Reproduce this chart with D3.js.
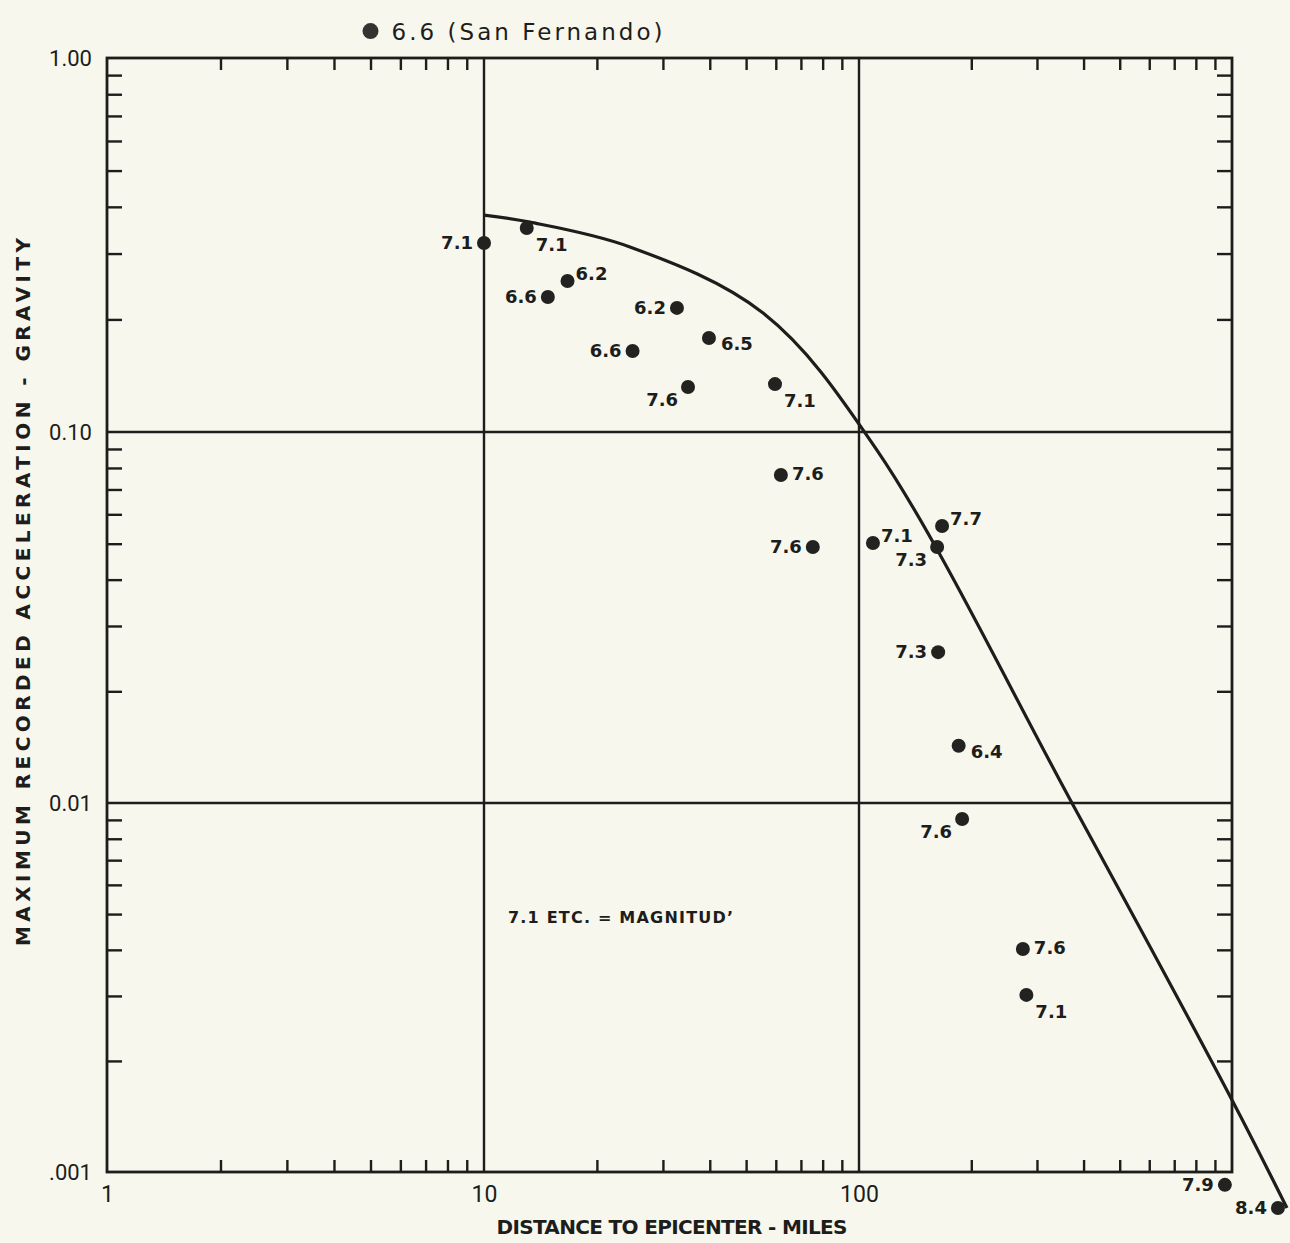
<!DOCTYPE html>
<html>
<head>
<meta charset="utf-8">
<script src="https://cdn.jsdelivr.net/npm/d3@7"></script>
<style>
  html, body { margin: 0; padding: 0; background: #f7f7ee; }
  svg { display: block; }
</style>
</head>
<body>
<svg id="chart" width="1290" height="1243"></svg>
<script>
// Recorded strong-motion events: distance (miles), peak acceleration (g), magnitude
const distances = [10, 13.0, 14.8, 16.7, 32.7, 24.9, 39.8, 35.0, 59.7, 61.9, 75.3,
                   109, 167, 162, 163, 185, 189, 275, 281, 957, 1328];
const accelerations = [0.320, 0.351, 0.2296, 0.2533, 0.2147, 0.1646, 0.1784, 0.1319, 0.1343,
                       0.0766, 0.0490, 0.0502, 0.0558, 0.0490, 0.0255, 0.01426, 0.00905,
                       0.00402, 0.00302, 0.000923, 0.000799];
const magnitudes = ["7.1", "7.1", "6.6", "6.2", "6.2", "6.6", "6.5", "7.6", "7.1", "7.6", "7.6",
                    "7.1", "7.7", "7.3", "7.3", "6.4", "7.6", "7.6", "7.1", "7.9", "8.4"];
// which side of its dot each magnitude is lettered on
const labelSides = ["l", "lr", "l", "ur", "l", "l", "rl", "ll", "lr", "r", "l",
                    "ur", "ur", "ll", "l", "rl", "ll", "r", "lr", "l", "l"];

// San Fernando record, plotted above the frame
const sanFernandoDistance = 5.0;
const sanFernandoAcceleration = 1.18;
const sanFernandoLabel = "6.6 (San Fernando)";

// Upper-bound envelope curve
const curveDistances = [10, 13.26, 24.5, 55.5, 111.7, 374.8, 1000, 1404];
const curveAccelerations = [0.380, 0.364, 0.3125, 0.208, 0.0894, 0.00988, 0.001567, 0.000799];

// Axis labelling
const xTickValues = [1, 10, 100];
const xTickLabels = ["1", "10", "100"];
const yTickValues = [1, 0.1, 0.01, 0.001];
const yTickLabels = ["1.00", "0.10", "0.01", ".001"];
const xDecades = [1, 10, 100];
const yDecades = [0.001, 0.01, 0.1];
const xGridValues = [10, 100];
const yGridValues = [0.1, 0.01];
const xTitle = "DISTANCE TO EPICENTER - MILES";
const yTitle = "MAXIMUM RECORDED ACCELERATION - GRAVITY";
const noteText = "7.1 ETC. = MAGNITUD\u2019";

const ink = "#1d1d1b";
const svg = d3.select("#chart");

// hand-drawn log paper: each decade has its own measured length
const x = d3.scaleLog().domain([1, 10, 100, 1000]).range([107, 484, 859, 1232]);
const y = d3.scaleLog().domain([0.001, 0.01, 0.1, 1]).range([1172, 803, 432, 58]);

const [x0, x1] = [x(1), x(1000)];
const [y0, y1] = [y(1), y(0.001)];

const minorX = xDecades.flatMap(d => d3.range(2, 10).map(k => k * d));
const minorY = yDecades.flatMap(d => d3.range(2, 10).map(k => k * d));

// minor ticks on all four sides
function tickAxis(axis, transform) {
  const g = svg.append("g").attr("transform", transform).call(axis);
  g.select(".domain").remove();
  g.selectAll("line").attr("stroke", ink).attr("stroke-width", 2.4);
  return g;
}
tickAxis(d3.axisBottom(x).tickValues(minorX).tickSize(12).tickFormat(""), `translate(0,${y0})`);
tickAxis(d3.axisTop(x).tickValues(minorX).tickSize(12).tickFormat(""), `translate(0,${y1})`);
tickAxis(d3.axisRight(y).tickValues(minorY).tickSize(15).tickFormat(""), `translate(${x0},0)`);
tickAxis(d3.axisLeft(y).tickValues(minorY).tickSize(15).tickFormat(""), `translate(${x1},0)`);

// grid lines at the decades
svg.append("g").selectAll("line").data(xGridValues).join("line")
  .attr("x1", d => x(d)).attr("x2", d => x(d))
  .attr("y1", y0).attr("y2", y1)
  .attr("stroke", ink).attr("stroke-width", 2.4);
svg.append("g").selectAll("line").data(yGridValues).join("line")
  .attr("y1", d => y(d)).attr("y2", d => y(d))
  .attr("x1", x0).attr("x2", x1)
  .attr("stroke", ink).attr("stroke-width", 2.4);

// frame
svg.append("rect")
  .attr("x", x0).attr("y", y0).attr("width", x1 - x0).attr("height", y1 - y0)
  .attr("fill", "none").attr("stroke", ink).attr("stroke-width", 2.8);

// decade labels
const xAxisLabels = svg.append("g").attr("transform", `translate(0,${y1})`)
  .call(d3.axisBottom(x).tickValues(xTickValues).tickSize(0).tickPadding(14)
    .tickFormat((d, i) => xTickLabels[i]));
xAxisLabels.select(".domain").remove();
xAxisLabels.selectAll("text")
  .attr("font-family", "Roboto, sans-serif").attr("font-size", 23).attr("fill", ink);

const yAxisLabels = svg.append("g").attr("transform", `translate(${x0},0)`)
  .call(d3.axisLeft(y).tickValues(yTickValues).tickSize(0).tickPadding(15)
    .tickFormat((d, i) => yTickLabels[i]));
yAxisLabels.select(".domain").remove();
yAxisLabels.selectAll("text")
  .attr("font-family", "Roboto, sans-serif").attr("font-size", 22).attr("fill", ink);

// envelope curve
const curvePoints = curveDistances.map((d, i) => [d, curveAccelerations[i]]);
svg.append("path")
  .datum(curvePoints)
  .attr("d", d3.line().x(d => x(d[0])).y(d => y(d[1])).curve(d3.curveCatmullRom.alpha(0.5)))
  .attr("fill", "none").attr("stroke", ink).attr("stroke-width", 3.2)
  .attr("stroke-linejoin", "round");

// observations
const events = distances.map((d, i) => ({
  distance: d, acceleration: accelerations[i], magnitude: magnitudes[i], side: labelSides[i]
}));
svg.append("g").selectAll("circle").data(events).join("circle")
  .attr("cx", d => x(d.distance)).attr("cy", d => y(d.acceleration))
  .attr("r", 7).attr("fill", "#222220");

const sideOffsets = {
  l:  { dx: -11, dy: 6,  anchor: "end" },
  r:  { dx: 11,  dy: 5,  anchor: "start" },
  rl: { dx: 12,  dy: 12, anchor: "start" },
  ur: { dx: 8,   dy: -1, anchor: "start" },
  lr: { dx: 9,   dy: 23, anchor: "start" },
  ll: { dx: -10, dy: 19, anchor: "end" }
};
svg.append("g").selectAll("text").data(events).join("text")
  .attr("x", d => x(d.distance) + sideOffsets[d.side].dx)
  .attr("y", d => y(d.acceleration) + sideOffsets[d.side].dy)
  .attr("text-anchor", d => sideOffsets[d.side].anchor)
  .attr("font-family", "'DejaVu Sans', sans-serif").attr("font-weight", "bold")
  .attr("font-size", 18).attr("fill", ink)
  .text(d => d.magnitude);

// San Fernando marker and label above the frame
svg.append("circle")
  .attr("cx", x(sanFernandoDistance)).attr("cy", y(sanFernandoAcceleration))
  .attr("r", 8).attr("fill", "#333331");
svg.append("text")
  .attr("x", x(sanFernandoDistance) + 21).attr("y", y(sanFernandoAcceleration) + 9)
  .attr("font-family", "'DejaVu Sans', sans-serif").attr("font-size", 23).attr("fill", ink)
  .attr("textLength", 271).attr("lengthAdjust", "spacing")
  .text(sanFernandoLabel);

// axis titles
svg.append("text")
  .attr("x", 672).attr("y", 1234).attr("text-anchor", "middle")
  .attr("font-family", "'DejaVu Sans', sans-serif").attr("font-weight", "bold")
  .attr("font-size", 20).attr("fill", ink)
  .attr("textLength", 351).attr("lengthAdjust", "spacing")
  .text(xTitle);
svg.append("text")
  .attr("transform", "translate(30,592) rotate(-90)").attr("text-anchor", "middle")
  .attr("font-family", "'DejaVu Sans', sans-serif").attr("font-weight", "bold")
  .attr("font-size", 20).attr("fill", ink)
  .attr("textLength", 708).attr("lengthAdjust", "spacing")
  .text(yTitle);

// key note
svg.append("text")
  .attr("x", 508).attr("y", 923)
  .attr("font-family", "'DejaVu Sans', sans-serif").attr("font-weight", "bold")
  .attr("font-size", 16).attr("fill", ink)
  .attr("textLength", 225).attr("lengthAdjust", "spacing")
  .text(noteText);
</script>
</body>
</html>
